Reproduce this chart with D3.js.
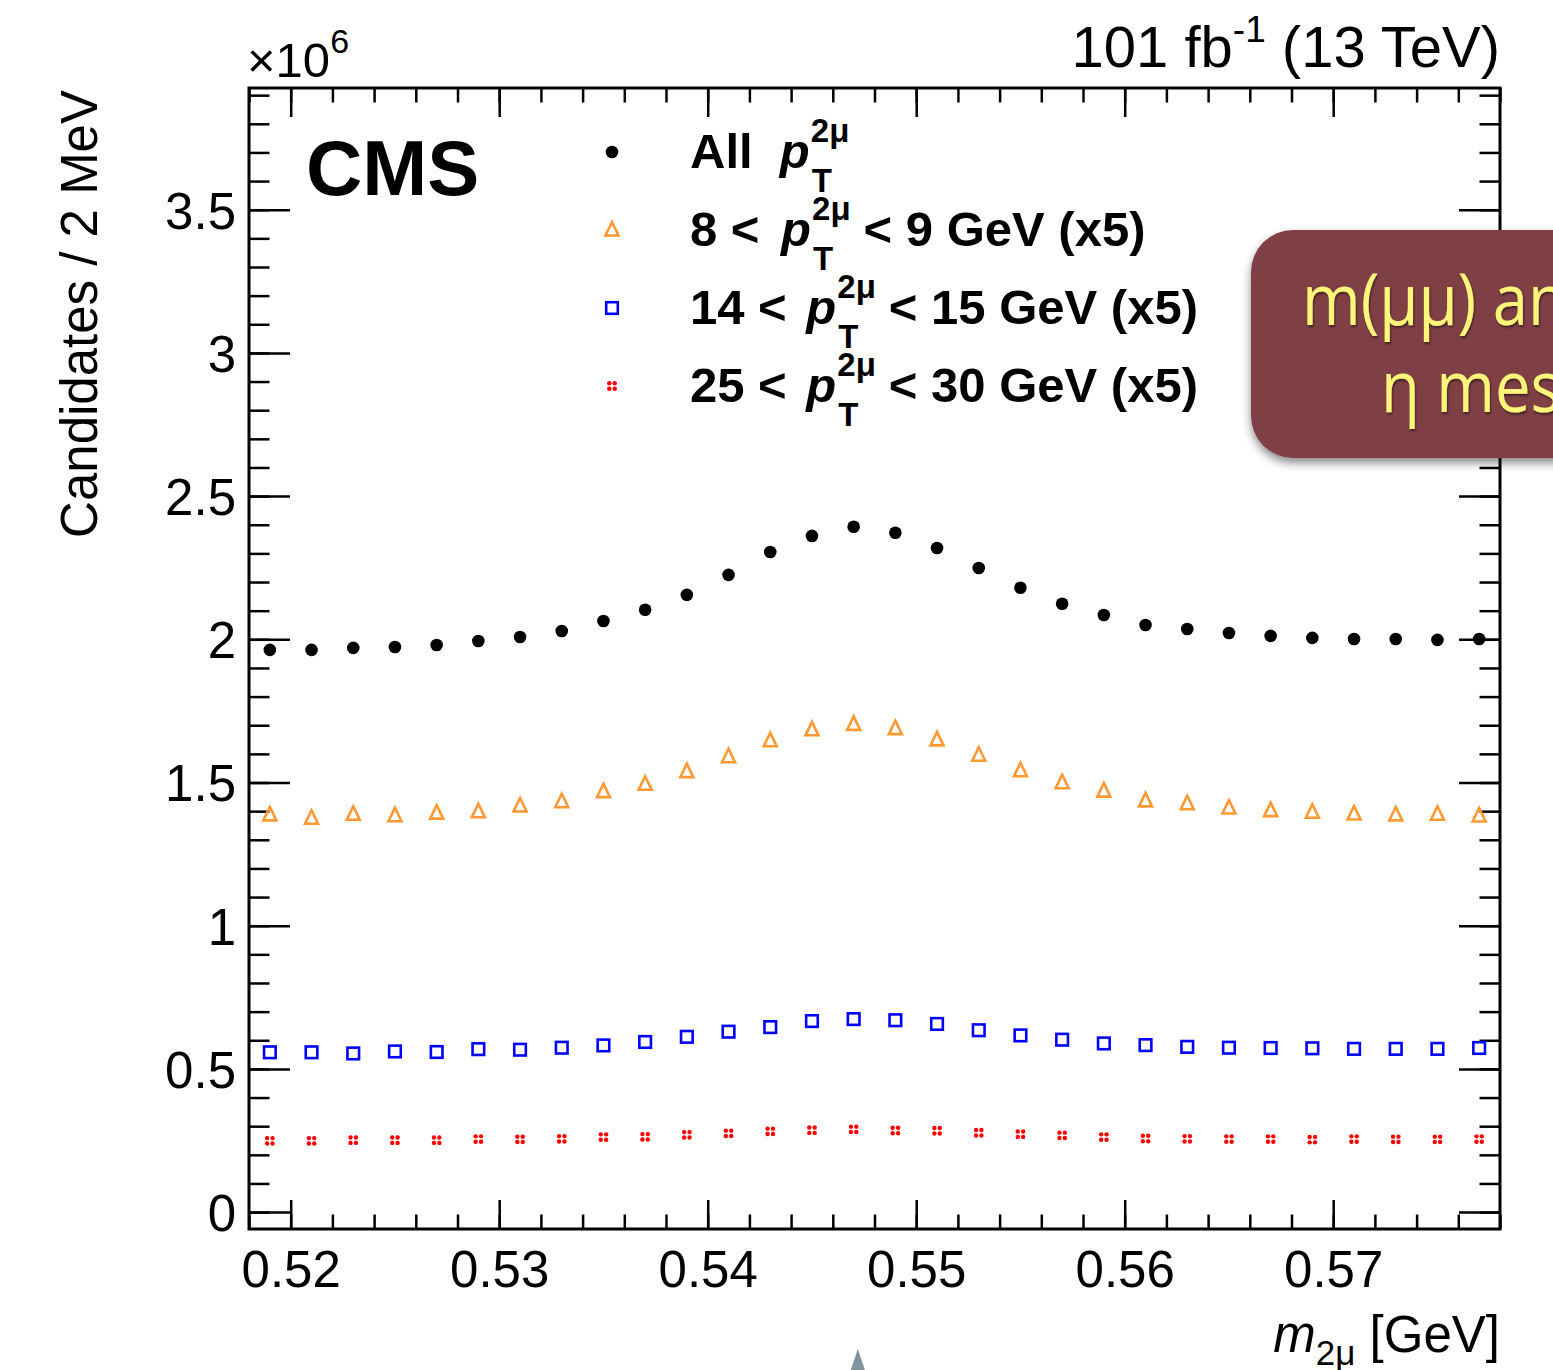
<!DOCTYPE html>
<html>
<head>
<meta charset="utf-8">
<script src="https://cdn.jsdelivr.net/npm/d3@7"></script>
<style>
  body { margin: 0; background: #fff; }
  svg { display: block; font-family: "Liberation Sans", Arial, Helvetica, sans-serif; }
</style>
</head>
<body>
<script>
// bin centres of the dimuon mass histogram (GeV), 2 MeV bins
var massBins = [0.519, 0.521, 0.523, 0.525, 0.527, 0.529, 0.531, 0.533, 0.535, 0.537,
                0.539, 0.541, 0.543, 0.545, 0.547, 0.549, 0.551, 0.553, 0.555, 0.557,
                0.559, 0.561, 0.563, 0.565, 0.567, 0.569, 0.571, 0.573, 0.575, 0.577];

// candidates per bin, in units of 10^6
var allPt = [1.963, 1.963, 1.970, 1.973, 1.980, 1.994, 2.008, 2.029, 2.064, 2.103,
             2.155, 2.225, 2.305, 2.361, 2.393, 2.372, 2.319, 2.249, 2.180, 2.124,
             2.085, 2.050, 2.036, 2.022, 2.012, 2.005, 2.001, 2.001, 1.998, 2.001];
var pt8to9 = [1.387, 1.375, 1.389, 1.384, 1.393, 1.398, 1.418, 1.433, 1.468, 1.494,
              1.538, 1.590, 1.646, 1.684, 1.703, 1.688, 1.649, 1.595, 1.541, 1.499,
              1.470, 1.436, 1.426, 1.411, 1.402, 1.396, 1.390, 1.387, 1.389, 1.383];
var pt14to15 = [0.558, 0.558, 0.554, 0.561, 0.559, 0.569, 0.567, 0.574, 0.582, 0.594,
                0.612, 0.630, 0.646, 0.667, 0.674, 0.670, 0.657, 0.635, 0.617, 0.602,
                0.589, 0.583, 0.577, 0.574, 0.573, 0.572, 0.570, 0.570, 0.570, 0.573];
var pt25to30 = [0.249, 0.249, 0.251, 0.251, 0.251, 0.255, 0.254, 0.256, 0.262, 0.263,
                0.270, 0.275, 0.282, 0.286, 0.289, 0.285, 0.284, 0.277, 0.272, 0.268,
                0.262, 0.257, 0.256, 0.255, 0.255, 0.253, 0.255, 0.254, 0.254, 0.255];

var xTicks = [0.52, 0.53, 0.54, 0.55, 0.56, 0.57];
var yTicks = [0, 0.5, 1, 1.5, 2, 2.5, 3, 3.5];
var pointerMass = 0.5472;   // where the slide pointer sits under the axis

var W = 1553, H = 1370;
var box = {left: 249, right: 1500, top: 88, bottom: 1229};

var svg = d3.select("body").append("svg")
    .attr("width", W)
    .attr("height", H);

var x = d3.scaleLinear().domain([0.518, 0.578]).range([box.left, box.right]);
var y = d3.scaleLinear().domain([-0.059, 3.925]).range([box.bottom, box.top]);

var xMinor = d3.range(0.518, 0.5781, 0.002);
var yMinor = d3.range(0, 3.91, 0.1);

function styleAxis(g) {
    g.select(".domain").remove();
    g.selectAll("line").attr("stroke", "#000").attr("stroke-width", 2.5);
}

// bottom axis
svg.append("g")
    .attr("transform", "translate(0," + box.bottom + ")")
    .call(d3.axisBottom(x).tickValues(xMinor).tickSize(-14.5).tickFormat(""))
    .call(styleAxis);
var xb = svg.append("g")
    .attr("transform", "translate(0," + box.bottom + ")")
    .call(d3.axisBottom(x).tickValues(xTicks).tickSize(-29).tickPadding(58).tickFormat(d3.format(".2f")))
    .call(styleAxis);
xb.selectAll("text").attr("font-size", 51).attr("fill", "#000").attr("font-family", "Liberation Sans, Arial").attr("dy", 0);

// top axis
svg.append("g")
    .attr("transform", "translate(0," + box.top + ")")
    .call(d3.axisTop(x).tickValues(xMinor).tickSize(-14.5).tickFormat(""))
    .call(styleAxis);
svg.append("g")
    .attr("transform", "translate(0," + box.top + ")")
    .call(d3.axisTop(x).tickValues(xTicks).tickSize(-29).tickFormat(""))
    .call(styleAxis);

// left axis
svg.append("g")
    .attr("transform", "translate(" + box.left + ",0)")
    .call(d3.axisLeft(y).tickValues(yMinor).tickSize(-20.5).tickFormat(""))
    .call(styleAxis);
var yl = svg.append("g")
    .attr("transform", "translate(" + box.left + ",0)")
    .call(d3.axisLeft(y).tickValues(yTicks).tickSize(-41).tickPadding(13).tickFormat(d3.format("~g")))
    .call(styleAxis);
yl.selectAll("text").attr("font-size", 51).attr("fill", "#000").attr("font-family", "Liberation Sans, Arial").attr("dy", "0.36em");

// right axis
svg.append("g")
    .attr("transform", "translate(" + box.right + ",0)")
    .call(d3.axisRight(y).tickValues(yMinor).tickSize(-20.5).tickFormat(""))
    .call(styleAxis);
svg.append("g")
    .attr("transform", "translate(" + box.right + ",0)")
    .call(d3.axisRight(y).tickValues(yTicks).tickSize(-41).tickFormat(""))
    .call(styleAxis);

// frame
svg.append("rect")
    .attr("x", box.left).attr("y", box.top)
    .attr("width", box.right - box.left).attr("height", box.bottom - box.top)
    .attr("fill", "none").attr("stroke", "#000").attr("stroke-width", 3);

// markers
function dots(g, cx, cy) {
    g.append("circle").attr("cx", cx).attr("cy", cy).attr("r", 6.3).attr("fill", "#000");
}
function triangle(g, cx, cy) {
    g.append("path")
        .attr("d", "M" + cx + "," + (cy - 8) + "L" + (cx + 6.5) + "," + (cy + 5.5) + "L" + (cx - 6.5) + "," + (cy + 5.5) + "Z")
        .attr("fill", "none").attr("stroke", "#ff9933").attr("stroke-width", 2.6);
}
function square(g, cx, cy) {
    g.append("rect").attr("x", cx - 5.8).attr("y", cy - 5.8).attr("width", 11.6).attr("height", 11.6)
        .attr("fill", "none").attr("stroke", "#0000ff").attr("stroke-width", 2.6);
}
function quad(g, cx, cy) {
    [[-2.7, -2.7], [2.7, -2.7], [-2.7, 2.7], [2.7, 2.7]].forEach(function (o) {
        g.append("circle").attr("cx", cx + o[0]).attr("cy", cy + o[1]).attr("r", 2.2).attr("fill", "#ff0000");
    });
}

var series = [
    {values: pt25to30, draw: quad},
    {values: pt14to15, draw: square},
    {values: pt8to9, draw: triangle},
    {values: allPt, draw: dots}
];
var marks = svg.append("g");
series.forEach(function (s) {
    massBins.forEach(function (m, i) {
        s.draw(marks, x(m), y(s.values[i]));
    });
});

// axis titles
svg.append("text")
    .attr("transform", "translate(97,90) rotate(-90)")
    .attr("text-anchor", "end")
    .attr("font-size", 51)
    .text("Candidates / 2 MeV");

var xt = svg.append("text")
    .attr("x", box.right).attr("y", 1352)
    .attr("text-anchor", "end")
    .attr("font-size", 51);
xt.append("tspan").attr("font-style", "italic").text("m");
xt.append("tspan").attr("font-size", 35).attr("dy", 13).text("2\u03bc");
xt.append("tspan").attr("dy", -13).text(" [GeV]");

// exponent
var ex = svg.append("text").attr("x", 247).attr("y", 77).attr("font-size", 49);
ex.append("tspan").text("\u00d710");
ex.append("tspan").attr("font-size", 34).attr("dy", -24).text("6");

// luminosity
var lum = svg.append("text")
    .attr("x", box.right).attr("y", 67)
    .attr("text-anchor", "end")
    .attr("font-size", 58);
lum.append("tspan").text("101 fb");
lum.append("tspan").attr("font-size", 37).attr("dy", -25).text("-1");
lum.append("tspan").attr("dy", 25).text(" (13 TeV)");

// CMS
svg.append("text")
    .attr("x", 306).attr("y", 195)
    .attr("font-size", 78).attr("font-weight", "bold")
    .text("CMS");

// legend
var legendRows = [
    {pre: "All\u00a0\u00a0", post: "", gap: 0, draw: dots},
    {pre: "8 < ", post: "< 9 GeV (x5)", gap: 8, draw: triangle},
    {pre: "14 < ", post: "< 15 GeV (x5)", gap: 6, draw: square},
    {pre: "25 < ", post: "< 30 GeV (x5)", gap: 6, draw: quad}
];
var leg = svg.append("g");
legendRows.forEach(function (r, i) {
    var base = 168 + i * 78;
    r.draw(leg, 612, base - 16);
    var t = leg.append("text").attr("x", 690).attr("y", base)
        .attr("font-size", 49).attr("font-weight", "bold");
    t.append("tspan").text(r.pre);
    t.append("tspan").attr("font-style", "italic").attr("dx", r.gap).text("p");
    var pEnd = 690 + r.gap + t.node().getComputedTextLength();
    var sup = leg.append("text").attr("x", pEnd + 1).attr("y", base - 26)
        .attr("font-size", 33).attr("font-weight", "bold").text("2\u03bc");
    leg.append("text").attr("x", pEnd + 2).attr("y", base + 24)
        .attr("font-size", 33).attr("font-weight", "bold").text("T");
    var supW = sup.node().getComputedTextLength();
    if (r.post) {
        leg.append("text").attr("x", pEnd + supW + 14).attr("y", base)
            .attr("font-size", 49).attr("font-weight", "bold").text(r.post);
    }
});

// slide pointer under the axis
var px0 = x(pointerMass);
svg.append("path")
    .attr("d", "M" + px0 + ",1349L" + (px0 + 7) + "," + H + "L" + (px0 - 7) + "," + H + "Z")
    .attr("fill", "#7f959b");

// slide callout
var defs = svg.append("defs");
var f = defs.append("filter").attr("id", "shadow").attr("x", "-20%").attr("y", "-20%").attr("width", "140%").attr("height", "150%");
f.append("feDropShadow").attr("dx", 0).attr("dy", 5).attr("stdDeviation", 5).attr("flood-color", "#000").attr("flood-opacity", 0.45);
var tf = defs.append("filter").attr("id", "tshadow");
tf.append("feDropShadow").attr("dx", 1).attr("dy", 2).attr("stdDeviation", 1.2).attr("flood-color", "#000").attr("flood-opacity", 0.5);

svg.append("rect")
    .attr("x", 1251).attr("y", 230).attr("width", 420).attr("height", 228).attr("rx", 42)
    .attr("fill", "#7e4145").attr("filter", "url(#shadow)");
svg.append("text")
    .attr("x", 1302).attr("y", 325)
    .attr("font-family", "Open Sans, sans-serif").attr("font-size", 72)
    .attr("fill", "#fdf47a").attr("filter", "url(#tshadow)")
    .attr("transform", "translate(1302,0) scale(0.88,1) translate(-1302,0)")
    .text("m(\u03bc\u03bc) and");
svg.append("text")
    .attr("x", 1381).attr("y", 412)
    .attr("font-family", "Open Sans, sans-serif").attr("font-size", 72)
    .attr("fill", "#fdf47a").attr("filter", "url(#tshadow)")
    .attr("transform", "translate(1381,0) scale(0.88,1) translate(-1381,0)")
    .text("\u03b7 meson");
</script>
</body>
</html>
